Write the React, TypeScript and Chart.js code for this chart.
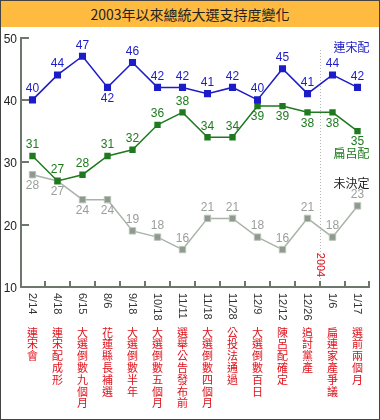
import React, { useEffect, useRef } from "react";
import { Chart, registerables } from "chart.js";
Chart.register(...registerables);

const titleText = "2003年以來總統大選支持度變化";
const dates = ["2/14", "4/18", "6/15", "8/6", "9/18", "10/18", "11/11", "11/18", "11/28", "12/9", "12/12", "12/26", "1/6", "1/17"];
const events = ["連宋會", "連宋配成形", "大選倒數九個月", "花蓮縣長補選", "大選倒數半年", "大選倒數五個月", "選舉公告發布前", "大選倒數四個月", "公投法通過", "大選倒數百日", "陳呂配確定", "追討黨產", "扁連家產爭議", "選前兩個月"];
const lienSoong = [40, 44, 47, 42, 46, 42, 42, 41, 42, 40, 45, 41, 44, 42];
const chenLu = [31, 27, 28, 31, 32, 36, 38, 34, 34, 39, 39, 38, 38, 35];
const undecided = [28, 27, 24, 24, 19, 18, 16, 21, 21, 18, 16, 21, 18, 23];
const seriesNames = ["連宋配", "扁呂配", "未決定"];
const yTicks = [10, 20, 30, 40, 50];
const yearMarkerLabel = "2004";
const yearMarkerBefore = 12; // divider placed before this category index
// label side per point: 1 = above, -1 = below
const lienSoongSide = [1, 1, 1, -1, 1, 1, 1, 1, 1, 1, 1, 1, 1, 1];
const chenLuSide = [1, 1, 1, 1, 1, 1, 1, 1, 1, -1, -1, -1, -1, -1];
const undecidedSide = [-1, -1, -1, -1, 1, 1, 1, 1, 1, 1, 1, 1, 1, 1];

const BLUE = "#1c1cc8";
const GREEN = "#1f7a1f";
const GRAYLINE = "#a9b3a9";
const GRAYPT = "#8d9a8d";
const GRAYTXT = "#9a9f9a";
const RED = "#e0101a";
const AXIS = "#6e776e";
const FONT = "'Liberation Sans', Arial, 'Noto Sans CJK TC', sans-serif";
const CJK = "'Noto Sans CJK TC', 'Liberation Sans', sans-serif";

export default function App() {
  const ref = useRef<HTMLCanvasElement | null>(null);
  useEffect(() => {
    if (!ref.current) return;
    const sides = [lienSoongSide, chenLuSide, undecidedSide];
    const labelColors = [BLUE, GREEN, GRAYTXT];
    const plugin = {
      id: "custom",
      beforeDatasetsDraw(chart: any) {
        const ctx = chart.ctx;
        const ca = chart.chartArea;
        const xs = chart.scales.x;
        const ys = chart.scales.y;
        ctx.save();
        // dotted year divider
        const dx = Math.round((xs.getPixelForValue(yearMarkerBefore - 1) + xs.getPixelForValue(yearMarkerBefore)) / 2) + 0.5;
        ctx.strokeStyle = "#b4b4b4";
        ctx.lineWidth = 1;
        ctx.setLineDash([1, 2]);
        ctx.beginPath();
        ctx.moveTo(dx, ys.getPixelForValue(48));
        ctx.lineTo(dx, ca.bottom);
        ctx.stroke();
        ctx.setLineDash([]);
        ctx.fillStyle = RED;
        ctx.font = `11px ${FONT}`;
        ctx.translate(dx, 265);
        ctx.rotate(Math.PI / 2);
        ctx.textAlign = "center";
        ctx.textBaseline = "middle";
        ctx.fillText(yearMarkerLabel, 0, 0);
        ctx.restore();

        ctx.save();
        // axes
        ctx.strokeStyle = AXIS;
        ctx.lineWidth = 2;
        ctx.beginPath();
        ctx.moveTo(ca.left + 1, ca.top);
        ctx.lineTo(ca.left + 1, ca.bottom);
        ctx.lineTo(ca.right, ca.bottom);
        ctx.stroke();
        // y ticks and labels
        ctx.fillStyle = "#222";
        ctx.font = `12px ${FONT}`;
        ctx.textAlign = "right";
        ctx.textBaseline = "middle";
        yTicks.forEach((v) => {
          const y = Math.round(ys.getPixelForValue(v));
          if (v !== yTicks[0]) {
            ctx.beginPath();
            ctx.moveTo(ca.left, y);
            ctx.lineTo(ca.left + 9, y);
            ctx.stroke();
          }
          ctx.fillText(String(v), 17, y + 2);
        });
        // x ticks between categories
        for (let i = 0; i < dates.length; i++) {
          const x = i < dates.length - 1
            ? Math.round((xs.getPixelForValue(i) + xs.getPixelForValue(i + 1)) / 2)
            : ca.right - 1;
          ctx.beginPath();
          ctx.moveTo(x, ca.bottom);
          ctx.lineTo(x, ca.bottom - 6);
          ctx.stroke();
        }
        // x labels
        dates.forEach((d, i) => {
          const x = xs.getPixelForValue(i);
          ctx.save();
          ctx.fillStyle = "#333";
          ctx.font = `11px ${FONT}`;
          ctx.translate(x, ca.bottom + 6);
          ctx.rotate(Math.PI / 2);
          ctx.textAlign = "left";
          ctx.textBaseline = "middle";
          ctx.fillText(d, 0, 0);
          ctx.restore();
          ctx.fillStyle = RED;
          ctx.font = `11px ${CJK}`;
          ctx.textAlign = "center";
          ctx.textBaseline = "top";
          Array.from(events[i]).forEach((ch, k) => {
            ctx.fillText(ch, x, 327 + k * 11.8);
          });
        });
        ctx.restore();
      },
      afterDatasetsDraw(chart: any) {
        const ctx = chart.ctx;
        ctx.save();
        ctx.font = `12px ${FONT}`;
        ctx.textAlign = "center";
        ctx.textBaseline = "middle";
        chart.data.datasets.forEach((ds: any, di: number) => {
          const meta = chart.getDatasetMeta(di);
          ctx.fillStyle = labelColors[di];
          meta.data.forEach((pt: any, i: number) => {
            ctx.fillText(String(ds.data[i]), pt.x, pt.y - 11 * sides[di][i]);
          });
        });
        // series names
        ctx.font = `12px ${CJK}`;
        const xs = chart.scales.x;
        const nx = xs.getPixelForValue(dates.length - 1) - 6;
        ctx.fillStyle = BLUE;
        ctx.fillText(seriesNames[0], nx, 47);
        ctx.fillStyle = GREEN;
        ctx.fillText(seriesNames[1], nx, 153);
        ctx.fillStyle = "#222";
        ctx.fillText(seriesNames[2], nx, 183);
        ctx.restore();
      },
    };
    const chart = new Chart(ref.current, {
      type: "line",
      data: {
        labels: dates,
        datasets: [
          {
            label: seriesNames[0], data: lienSoong, borderColor: BLUE, backgroundColor: BLUE,
            borderWidth: 1.5, pointStyle: "rect", pointRadius: 5, pointBorderWidth: 0,
          },
          {
            label: seriesNames[1], data: chenLu, borderColor: GREEN, backgroundColor: GREEN,
            borderWidth: 1.5, pointStyle: "rect", pointRadius: 4.5, pointBorderWidth: 0,
          },
          {
            label: seriesNames[2], data: undecided, borderColor: GRAYLINE, backgroundColor: GRAYPT,
            pointBorderColor: "#b9c2b9", borderWidth: 1.5, pointStyle: "rect", pointRadius: 4.5, pointBorderWidth: 1,
          },
        ],
      },
      options: {
        responsive: false,
        animation: false,
        devicePixelRatio: 1,
        layout: { padding: { left: 20, right: 10, top: 37.5, bottom: 133 } },
        plugins: { legend: { display: false }, tooltip: { enabled: false }, title: { display: false } },
        scales: {
          x: { type: "category", offset: true, display: false },
          y: { min: 10, max: 50, display: false },
        },
      },
      plugins: [plugin],
    });
    return () => chart.destroy();
  }, []);
  return (
    <div style={{ position: "fixed", left: 0, top: 0, width: 380, height: 420, background: "#fff", overflow: "hidden" }}>
      <canvas ref={ref} width={380} height={420} style={{ position: "absolute", left: 0, top: 0, width: 380, height: 420 }} />
      <div style={{ position: "absolute", left: 0, top: 0, width: 380, height: 27, background: "#ffba40", color: "#222", font: `14px ${CJK}`, lineHeight: "28px", textAlign: "center" }}>
        {titleText}
      </div>
      <div style={{ position: "absolute", left: 0, top: 0, width: 380, height: 420, boxSizing: "border-box", border: "1px solid #444", pointerEvents: "none" }} />
    </div>
  );
}
